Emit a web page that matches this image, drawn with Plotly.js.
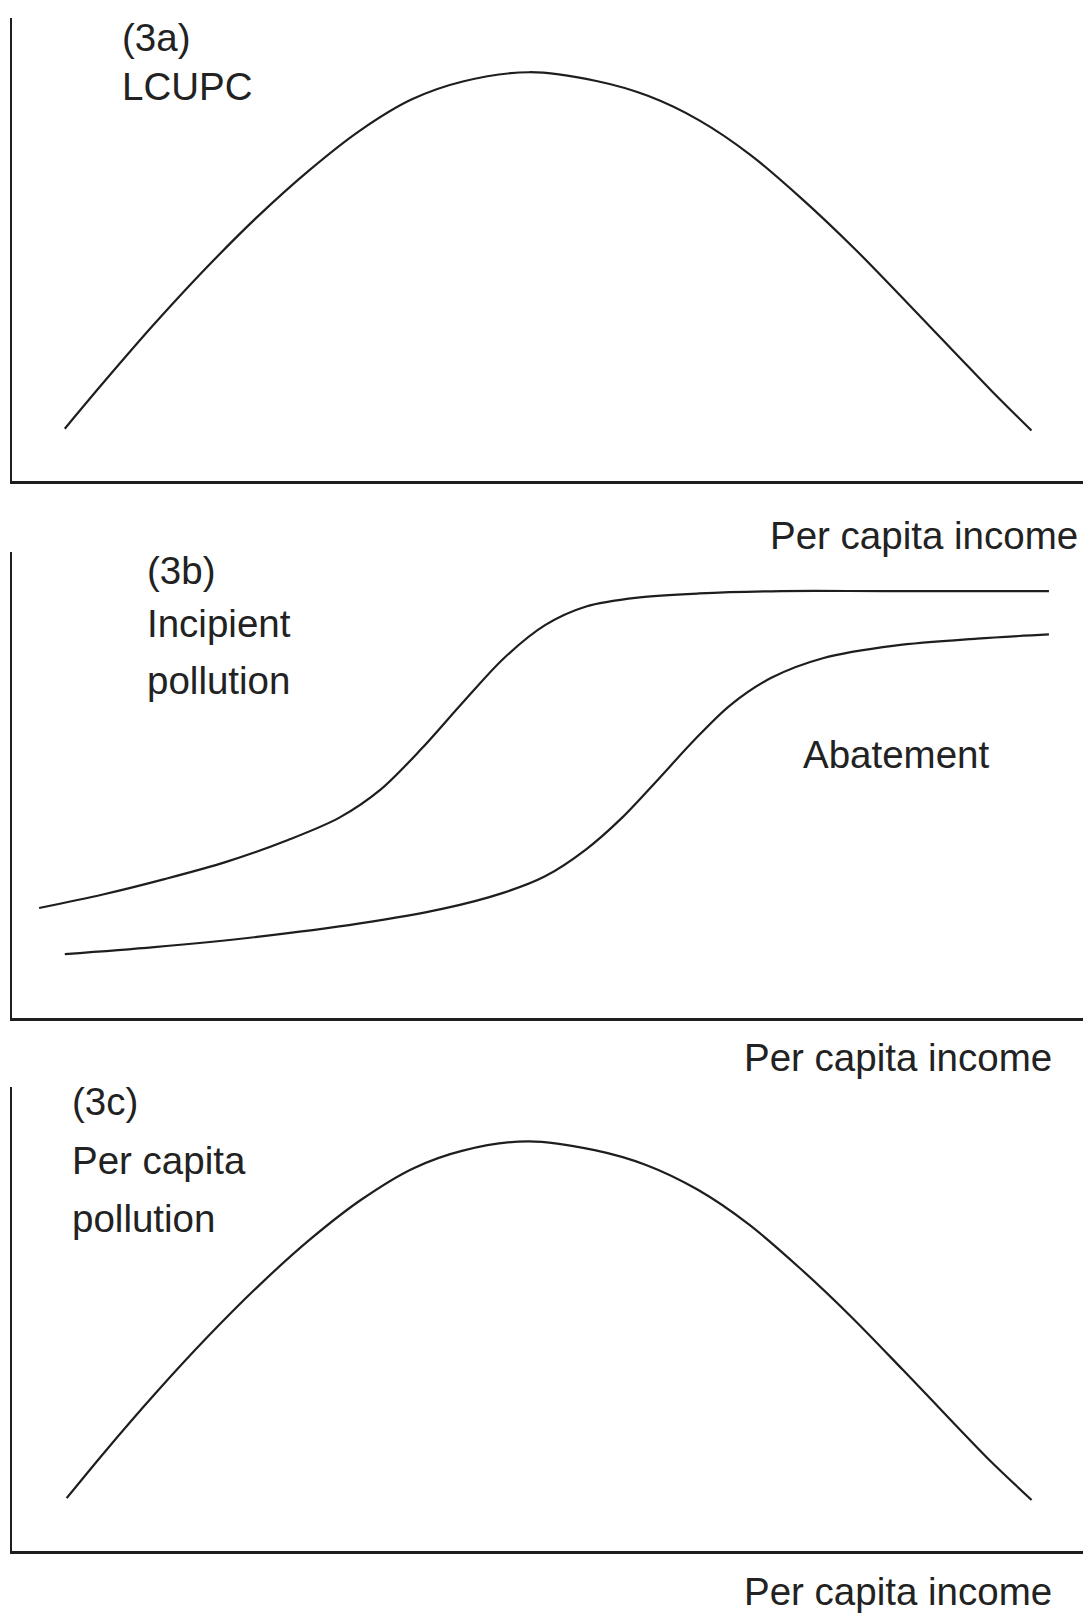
<!DOCTYPE html>
<html>
<head>
<meta charset="utf-8">
<script src="https://cdn.plot.ly/plotly-3.0.1.min.js"></script>
<style>html,body{margin:0;padding:0;background:#fff;}#chart{width:1087px;height:1613px;}</style>
</head>
<body>
<div id="chart"></div>
<script>
// Panel (3a): LCUPC vs per capita income (arbitrary units 0-100)
var incomeA = [4.93, 8.48, 13.28, 18.08, 22.88, 27.69, 32.49, 37.29, 42.09, 48.33, 54.57, 59.37, 64.17, 68.97, 73.78, 78.58, 83.38, 88.18, 91.54, 95.19];
var lcupcA  = [11.3, 21.1, 33.9, 45.9, 57.0, 67.0, 75.7, 82.4, 86.3, 88.3, 86.4, 83.2, 77.9, 70.4, 60.9, 50.4, 39.0, 27.4, 19.3, 10.9];

// Panel (3b): incipient pollution and abatement
var incomeInc = [2.53, 8.48, 14.24, 20.00, 25.77, 30.57, 34.41, 38.25, 42.09, 45.93, 49.77, 53.61, 58.41, 64.17, 71.85, 81.46, 96.82];
var incipient = [23.6, 26.5, 29.8, 33.5, 38.2, 43.0, 49.0, 57.8, 67.7, 77.2, 84.3, 88.3, 90.2, 91.1, 91.6, 91.6, 91.6];
var incomeAb  = [4.93, 13.28, 22.88, 32.49, 40.17, 45.93, 49.77, 53.61, 56.97, 60.33, 63.69, 67.05, 70.90, 75.70, 82.42, 90.10, 96.82];
var abatement = [13.7, 15.2, 17.4, 20.3, 23.4, 26.9, 30.4, 36.2, 43.0, 51.2, 59.6, 67.1, 73.0, 77.2, 79.9, 81.4, 82.3];

// Panel (3c): per capita pollution
var incomeC = [5.1, 8.6, 13.4, 18.2, 23.0, 27.8, 32.6, 37.4, 42.1, 48.2, 54.4, 59.2, 64.0, 68.8, 73.6, 78.4, 83.2, 88.0, 91.4, 95.2];
var pollutionC = [11.4, 21.2, 34.0, 46.0, 57.1, 67.1, 75.7, 82.4, 86.3, 88.3, 86.4, 83.2, 77.9, 70.4, 60.9, 50.4, 39.0, 27.4, 19.3, 11.0];

// Labels
var panelLabels = ["(3a)", "(3b)", "(3c)"];
var seriesLabelsA = ["LCUPC"];
var seriesLabelsB = ["Incipient", "pollution", "Abatement"];
var seriesLabelsC = ["Per capita", "pollution"];
var xTitle = "Per capita income";

var ink = "#1e1e1e";
var lineStyle = {color: ink, width: 2.2, shape: "spline", smoothing: 0.9};

var traces = [
  {x: incomeA, y: lcupcA, xaxis: "x", yaxis: "y", mode: "lines", line: lineStyle, hoverinfo: "skip"},
  {x: incomeInc, y: incipient, xaxis: "x2", yaxis: "y2", mode: "lines", line: lineStyle, hoverinfo: "skip"},
  {x: incomeAb, y: abatement, xaxis: "x2", yaxis: "y2", mode: "lines", line: lineStyle, hoverinfo: "skip"},
  {x: incomeC, y: pollutionC, xaxis: "x3", yaxis: "y3", mode: "lines", line: lineStyle, hoverinfo: "skip"}
];

function xAx(anchor) {
  return {domain: [0, 1], range: [0, 100], anchor: anchor, showline: true, linecolor: ink, linewidth: 2.8,
          showgrid: false, zeroline: false, showticklabels: false, ticks: "", fixedrange: true};
}
function yAx(anchor, dom) {
  return {domain: dom, range: [0, 100], anchor: anchor, showline: true, linecolor: ink, linewidth: 2.2,
          showgrid: false, zeroline: false, showticklabels: false, ticks: "", fixedrange: true};
}

var font = {family: "Liberation Sans, Arial, Helvetica, sans-serif", size: 38.5, color: "#222222"};
function ann(text, x, y, xanchor) {
  return {text: text, x: x, y: y, xref: "paper", yref: "paper", xanchor: xanchor || "left", yanchor: "middle",
          showarrow: false, font: font};
}

var layout = {
  width: 1087, height: 1613,
  margin: {l: 12, r: 4, t: 0, b: 0},
  paper_bgcolor: "#ffffff", plot_bgcolor: "#ffffff",
  showlegend: false,
  xaxis: xAx("y"), yaxis: yAx("x", [0.7018, 0.9888]),
  xaxis2: xAx("y2"), yaxis2: yAx("x2", [0.3689, 0.6578]),
  xaxis3: xAx("y3"), yaxis3: yAx("x3", [0.0384, 0.3261]),
  annotations: [
    ann(panelLabels[0], 0.1008, 0.9770),
    ann(seriesLabelsA[0], 0.1008, 0.9466),
    ann(xTitle, 0.9972, 0.6680, "right"),
    ann(panelLabels[1], 0.124, 0.6462),
    ann(seriesLabelsB[0], 0.124, 0.6133),
    ann(seriesLabelsB[1], 0.124, 0.5780),
    ann(seriesLabelsB[2], 0.7367, 0.5320),
    ann(xTitle, 0.9729, 0.3443, "right"),
    ann(panelLabels[2], 0.0542, 0.3170),
    ann(seriesLabelsC[0], 0.0542, 0.2804),
    ann(seriesLabelsC[1], 0.0542, 0.2444),
    ann(xTitle, 0.9729, 0.0132, "right")
  ]
};

Plotly.newPlot("chart", traces, layout, {staticPlot: true, displayModeBar: false});
</script>
</body>
</html>
